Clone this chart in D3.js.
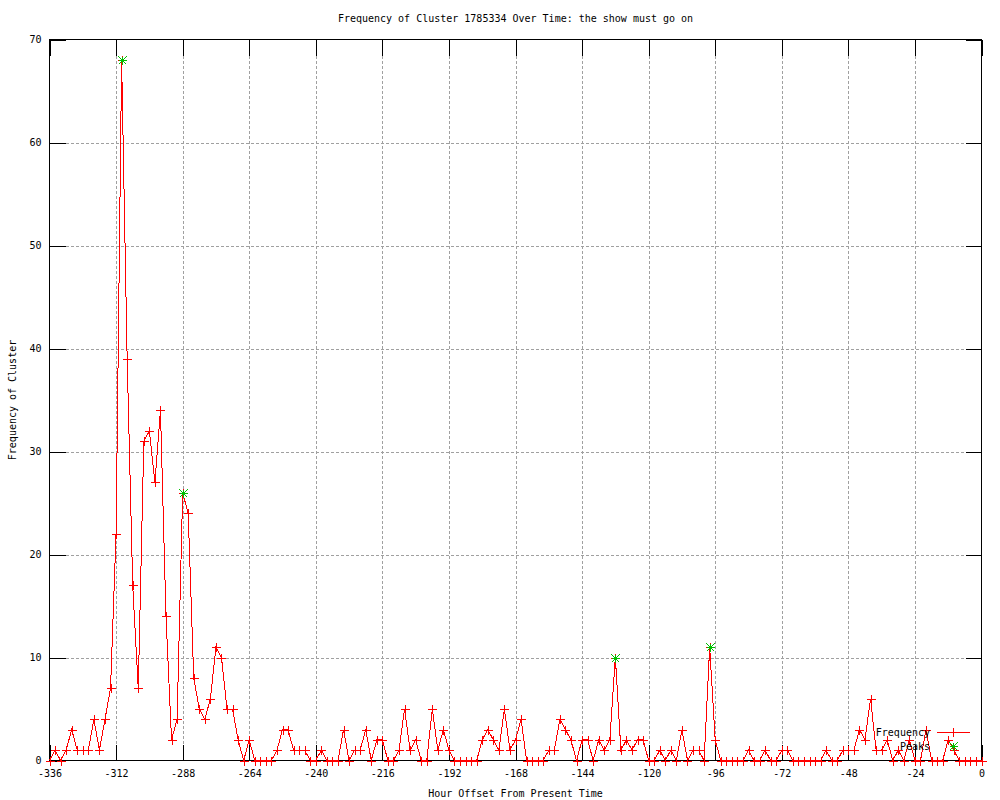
<!DOCTYPE html>
<html>
<head>
<meta charset="utf-8">
<script src="https://cdn.jsdelivr.net/npm/d3@7/dist/d3.min.js"></script>
<style>
body { margin: 0; background: #fff; }
text { font-family: "DejaVu Sans Mono", "Liberation Mono", monospace; font-size: 10px; fill: #000; }
</style>
</head>
<body>
<script>
// hour offsets (every 2 hours) and cluster counts
var hours = [
  -336, -334, -332, -330, -328, -326, -324, -322, -320, -318,
  -316, -314, -312, -310, -308, -306, -304, -302, -300, -298,
  -296, -294, -292, -290, -288, -286, -284, -282, -280, -278,
  -276, -274, -272, -270, -268, -266, -264, -262, -260, -258,
  -256, -254, -252, -250, -248, -246, -244, -242, -240, -238,
  -236, -234, -232, -230, -228, -226, -224, -222, -220, -218,
  -216, -214, -212, -210, -208, -206, -204, -202, -200, -198,
  -196, -194, -192, -190, -188, -186, -184, -182, -180, -178,
  -176, -174, -172, -170, -168, -166, -164, -162, -160, -158,
  -156, -154, -152, -150, -148, -146, -144, -142, -140, -138,
  -136, -134, -132, -130, -128, -126, -124, -122, -120, -118,
  -116, -114, -112, -110, -108, -106, -104, -102, -100, -98,
  -96, -94, -92, -90, -88, -86, -84, -82, -80, -78,
  -76, -74, -72, -70, -68, -66, -64, -62, -60, -58,
  -56, -54, -52, -50, -48, -46, -44, -42, -40, -38,
  -36, -34, -32, -30, -28, -26, -24, -22, -20, -18,
  -16, -14, -12, -10, -8, -6, -4, -2, 0
];
var frequency = [
  0, 1, 0, 1, 3, 1, 1, 1, 4, 1,
  4, 7, 22, 68, 39, 17, 7, 31, 32, 27,
  34, 14, 2, 4, 26, 24, 8, 5, 4, 6,
  11, 10, 5, 5, 2, 0, 2, 0, 0, 0,
  0, 1, 3, 3, 1, 1, 1, 0, 0, 1,
  0, 0, 0, 3, 0, 1, 1, 3, 0, 2,
  2, 0, 0, 1, 5, 1, 2, 0, 0, 5,
  1, 3, 1, 0, 0, 0, 0, 0, 2, 3,
  2, 1, 5, 1, 2, 4, 0, 0, 0, 0,
  1, 1, 4, 3, 2, 0, 2, 2, 0, 2,
  1, 2, 10, 1, 2, 1, 2, 2, 0, 0,
  1, 0, 1, 0, 3, 0, 1, 1, 0, 11,
  2, 0, 0, 0, 0, 0, 1, 0, 0, 1,
  0, 0, 1, 1, 0, 0, 0, 0, 0, 0,
  1, 0, 0, 1, 1, 1, 3, 2, 6, 1,
  1, 2, 0, 1, 0, 2, 0, 0, 3, 0,
  0, 0, 2, 1, 0, 0, 0, 0, 0
];
var peakHours = [-310, -288, -132, -98];
var peakValues = [68, 26, 10, 11];

var xTicks = [-336, -312, -288, -264, -240, -216, -192, -168, -144, -120, -96, -72, -48, -24, 0];
var yTicks = [0, 10, 20, 30, 40, 50, 60, 70];

var titleText = 'Frequency of Cluster 1785334 Over Time: the show must go on';
var xLabel = 'Hour Offset From Present Time';
var yLabel = 'Frequency of Cluster';

// plot box (named so they don't clash with window.top)
var plotLeft = 49.5, plotRight = 981.5, plotTop = 39.5, plotBottom = 760.5;
var tickLen = 16;

d3.select('body')
  .append('svg')
  .attr('width', 1000)
  .attr('height', 800);

var svg = d3.select('svg');

var x = d3.scaleLinear().domain([-336, 0]).range([plotLeft, plotRight]);
var y = d3.scaleLinear().domain([0, 70]).range([plotBottom, plotTop]);

// dotted grid
var grid = svg.append('g').attr('stroke', '#a0a0a0').attr('stroke-dasharray', '3,2')
  .attr('shape-rendering', 'crispEdges');
grid.selectAll('line.gx')
  .data(xTicks.slice(1, -1))
  .enter().append('line')
  .attr('x1', function (d) { return Math.round(x(d)) + 0.5; })
  .attr('x2', function (d) { return Math.round(x(d)) + 0.5; })
  .attr('y1', plotTop + tickLen).attr('y2', plotBottom - tickLen);
grid.selectAll('line.gy')
  .data(yTicks.slice(1, -1))
  .enter().append('line')
  .attr('x1', plotLeft + tickLen).attr('x2', plotRight - tickLen)
  .attr('y1', function (d) { return Math.round(y(d)) + 0.5; })
  .attr('y2', function (d) { return Math.round(y(d)) + 0.5; });

// axes: inward ticks on all four sides, like gnuplot mirror tics
var xBottom = d3.axisBottom(x).tickValues(xTicks).tickSize(-tickLen).tickPadding(9);
var xTop = d3.axisTop(x).tickValues(xTicks).tickSize(-tickLen).tickFormat('');
var yLeft = d3.axisLeft(y).tickValues(yTicks).tickSize(-tickLen).tickPadding(8);
var yRight = d3.axisRight(y).tickValues(yTicks).tickSize(-tickLen).tickFormat('');

function styleAxis(g) {
  g.select('.domain').remove();
  g.selectAll('line').attr('stroke', '#000').attr('shape-rendering', 'crispEdges');
  g.selectAll('text').style('font-family', '"DejaVu Sans Mono", monospace').style('font-size', '10px').attr('fill', '#000');
}

svg.append('g').attr('transform', 'translate(0,' + plotBottom + ')').call(xBottom).call(styleAxis);
svg.append('g').attr('transform', 'translate(0,' + plotTop + ')').call(xTop).call(styleAxis);
svg.append('g').attr('transform', 'translate(' + plotLeft + ',0)').call(yLeft).call(styleAxis);
svg.append('g').attr('transform', 'translate(' + plotRight + ',0)').call(yRight).call(styleAxis);

// gnuplot prints a plain hyphen for negatives
svg.selectAll('.tick text').each(function () {
  var t = d3.select(this);
  t.text(t.text().replace('\u2212', '-'));
});

// frame
svg.append('rect')
  .attr('x', plotLeft).attr('y', plotTop)
  .attr('width', plotRight - plotLeft).attr('height', plotBottom - plotTop)
  .attr('fill', 'none').attr('stroke', '#000').attr('shape-rendering', 'crispEdges');

// frequency line
var points = hours.map(function (h, i) { return [h, frequency[i]]; });
var line = d3.line()
  .x(function (d) { return x(d[0]); })
  .y(function (d) { return y(d[1]); });

svg.append('path')
  .datum(points)
  .attr('d', line)
  .attr('fill', 'none')
  .attr('stroke', '#ff0000')
  .attr('stroke-width', 1)
  .attr('shape-rendering', 'crispEdges');

function plus(g, cx, cy, r) {
  g.append('line').attr('x1', cx - r).attr('x2', cx + r).attr('y1', cy).attr('y2', cy);
  g.append('line').attr('x1', cx).attr('x2', cx).attr('y1', cy - r).attr('y2', cy + r);
}
function star(g, cx, cy, r) {
  plus(g, cx, cy, r);
  g.append('line').attr('x1', cx - r).attr('x2', cx + r).attr('y1', cy - r).attr('y2', cy + r);
  g.append('line').attr('x1', cx - r).attr('x2', cx + r).attr('y1', cy + r).attr('y2', cy - r);
}

var marks = svg.append('g').attr('stroke', '#ff0000').attr('stroke-width', 1)
  .attr('shape-rendering', 'crispEdges');
points.forEach(function (d) {
  plus(marks, Math.round(x(d[0])) + 0.5, Math.round(y(d[1])) + 0.5, 4.5);
});

var peaks = svg.append('g').attr('stroke', '#00c000').attr('stroke-width', 1)
  .attr('shape-rendering', 'crispEdges');
peakHours.forEach(function (h, i) {
  star(peaks, Math.round(x(h)) + 0.5, Math.round(y(peakValues[i])) + 0.5, 4);
});

// key
svg.append('text').attr('x', 930).attr('y', 736).attr('text-anchor', 'end').text('Frequency');
svg.append('line').attr('x1', 937).attr('x2', 970).attr('y1', 732.5).attr('y2', 732.5)
  .attr('stroke', '#ff0000').attr('shape-rendering', 'crispEdges');
var keyMarks = svg.append('g').attr('stroke', '#ff0000').attr('shape-rendering', 'crispEdges');
plus(keyMarks, 953.5, 732.5, 4.5);
svg.append('text').attr('x', 930).attr('y', 750).attr('text-anchor', 'end').text('Peaks');
var keyPeak = svg.append('g').attr('stroke', '#00c000').attr('shape-rendering', 'crispEdges');
star(keyPeak, 953.5, 746.5, 4);

// titles
svg.append('text').attr('x', (plotLeft + plotRight) / 2).attr('y', 22).attr('text-anchor', 'middle').text(titleText);
svg.append('text').attr('x', (plotLeft + plotRight) / 2).attr('y', 797).attr('text-anchor', 'middle').text(xLabel);
svg.append('text')
  .attr('transform', 'translate(16,' + (plotTop + plotBottom) / 2 + ') rotate(-90)')
  .attr('text-anchor', 'middle')
  .text(yLabel);
</script>
</body>
</html>
